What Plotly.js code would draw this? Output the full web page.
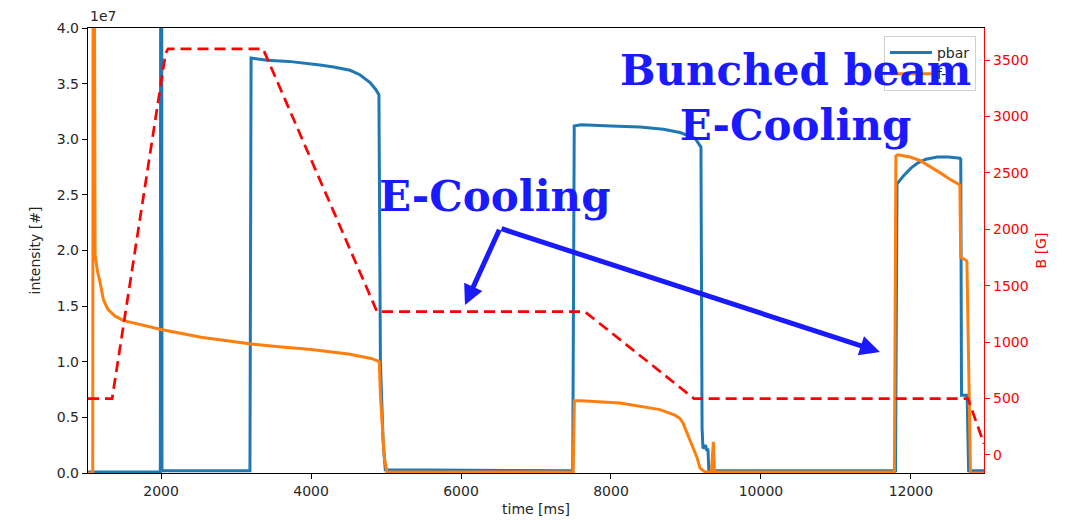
<!DOCTYPE html>
<html>
<head>
<meta charset="utf-8">
<script src="https://cdn.plot.ly/plotly-3.0.1.min.js"></script>
<style>html,body{margin:0;padding:0;background:#fff;}#chart{width:1066px;height:525px;}</style>
</head>
<body>
<div id="chart"></div>
<script>
// intensity values in units of 1e7
const pbarTime = [1025,1990,1994,2008,2012,3185,3200,3300,3413,3700,4000,4120,4300,4520,4650,4787,4860,4893,4905,4925,4960,4990,7490,7510,7600,8000,8387,8700,8920,9120,9200,9215,9227,9260,9280,9293,9305,11795,11815,11900,12000,12100,12200,12350,12500,12653,12665,12675,12750,12770,12975];
const pbarVal  = [0.01,0.01,4.6,4.6,0.02,0.02,3.73,3.72,3.71,3.70,3.68,3.667,3.65,3.62,3.58,3.51,3.45,3.42,3.40,1.0,0.3,0.03,0.02,3.12,3.13,3.12,3.11,3.09,3.06,3.01,2.93,0.4,0.22,0.25,0.2,0.22,0.02,0.02,2.6,2.67,2.74,2.79,2.82,2.84,2.84,2.83,2.82,0.70,0.70,0.02,0.02];

const fTime = [1025,1088,1095,1105,1120,1150,1190,1230,1290,1387,1500,2000,2533,3200,3500,4000,4500,4800,4880,4910,4925,4950,4975,5010,7495,7512,7600,8120,8387,8653,8853,8920,8960,9027,9093,9147,9187,9253,9340,9355,9365,9380,11780,11800,11830,11987,12120,12387,12520,12653,12665,12740,12747,12795,12975];
const fVal  = [0.0,0.0,6.0,6.0,1.96,1.82,1.70,1.56,1.47,1.41,1.37,1.29,1.22,1.16,1.14,1.11,1.07,1.03,1.01,1.0,0.7,0.45,0.15,0.01,0.01,0.65,0.65,0.63,0.60,0.57,0.52,0.49,0.45,0.34,0.23,0.14,0.045,0.01,0.01,0.28,0.28,0.01,0.01,2.85,2.86,2.84,2.81,2.70,2.64,2.59,1.94,1.91,1.90,0.0,0.0];

const bTime = [1025,1347,2060,2093,3360,4880,7653,9107,12760,12975];
const bVal  = [500,500,3560,3600,3600,1270,1270,500,500,100];

const xTicks = [2000,4000,6000,8000,10000,12000];
const yTicks = [0,0.5,1,1.5,2,2.5,3,3.5,4];
const yTickText = ["0.0","0.5","1.0","1.5","2.0","2.5","3.0","3.5","4.0"];
const bTicks = [0,500,1000,1500,2000,2500,3000,3500];

const font = {family:"DejaVu Sans", size:14, color:"#262626"};
const annBlue = "#1a1aff";

const traces = [
  {x:pbarTime, y:pbarVal, type:"scatter", mode:"lines", name:"pbar",
   line:{color:"#1f77b4", width:3}, yaxis:"y"},
  {x:fTime, y:fVal, type:"scatter", mode:"lines", name:"f-",
   line:{color:"#ff7f0e", width:3}, yaxis:"y"},
  {x:bTime, y:bVal, type:"scatter", mode:"lines", name:"B",
   line:{color:"red", width:2.7, dash:"11px,6px"}, yaxis:"y2", showlegend:false}
];

const layout = {
  width:1066, height:525,
  margin:{l:88, r:82, t:28, b:52},
  paper_bgcolor:"#fff", plot_bgcolor:"#fff",
  font:font,
  showlegend:true,
  legend:{x:0.991, y:0.982, xanchor:"right", yanchor:"top", itemwidth:42,
    bgcolor:"rgba(255,255,255,0.8)", bordercolor:"#d0d0d0", borderwidth:1,
    font:{family:"DejaVu Sans", size:14, color:"#262626"}, tracegroupgap:0},
  xaxis:{range:[1025,12975], tickvals:xTicks, ticktext:xTicks.map(String),
    showgrid:false, zeroline:false, showline:true, linecolor:"#000", linewidth:1.2,
    mirror:true, ticks:"outside", ticklen:5, tickcolor:"#000",
    title:{text:"time [ms]", standoff:6, font:{family:"DejaVu Sans", size:14, color:"#262626"}}},
  yaxis:{range:[0,4], tickvals:yTicks, ticktext:yTickText,
    showgrid:false, zeroline:false, showline:true, linecolor:"#000", linewidth:1.2,
    ticks:"outside", ticklen:5, tickcolor:"#000",
    title:{text:"intensity [#]", standoff:12, font:{family:"DejaVu Sans", size:14, color:"#262626"}}},
  yaxis2:{range:[-160,3785], overlaying:"y", side:"right", tickvals:bTicks, ticktext:bTicks.map(String),
    showgrid:false, zeroline:false, showline:true, linecolor:"red", linewidth:1.2,
    ticks:"outside", ticklen:5, tickcolor:"red", tickfont:{family:"DejaVu Sans", size:14, color:"red"},
    title:{text:"B [G]", standoff:8, font:{family:"DejaVu Sans", size:14, color:"red"}}},
  annotations:[
    {xref:"paper", yref:"paper", x:0, y:1, xanchor:"left", yanchor:"bottom", yshift:2,
     text:"1e7", showarrow:false, font:{family:"DejaVu Sans", size:14, color:"#262626"}},
    {xref:"paper", yref:"paper", x:0.790, y:0.843, xanchor:"center", yanchor:"middle",
     text:"<b>Bunched beam</b><br><b>E-Cooling</b>", showarrow:false,
     font:{family:"DejaVu Serif", size:42, color:annBlue}},
    {xref:"paper", yref:"paper", x:0.454, y:0.622, xanchor:"center", yanchor:"middle",
     text:"<b>E-Cooling</b>", showarrow:false,
     font:{family:"DejaVu Serif", size:42, color:annBlue}},
    {xref:"x", yref:"y", axref:"x", ayref:"y", x:6053, y:1.51, ax:6520, ay:2.20,
     text:"", showarrow:true, arrowhead:2, arrowsize:0.8, arrowwidth:5, arrowcolor:annBlue},
    {xref:"x", yref:"y", axref:"x", ayref:"y", x:11587, y:1.088, ax:6520, ay:2.20,
     text:"", showarrow:true, arrowhead:2, arrowsize:0.8, arrowwidth:5, arrowcolor:annBlue}
  ]
};

Plotly.newPlot("chart", traces, layout, {displayModeBar:false, staticPlot:true});
</script>
</body>
</html>
